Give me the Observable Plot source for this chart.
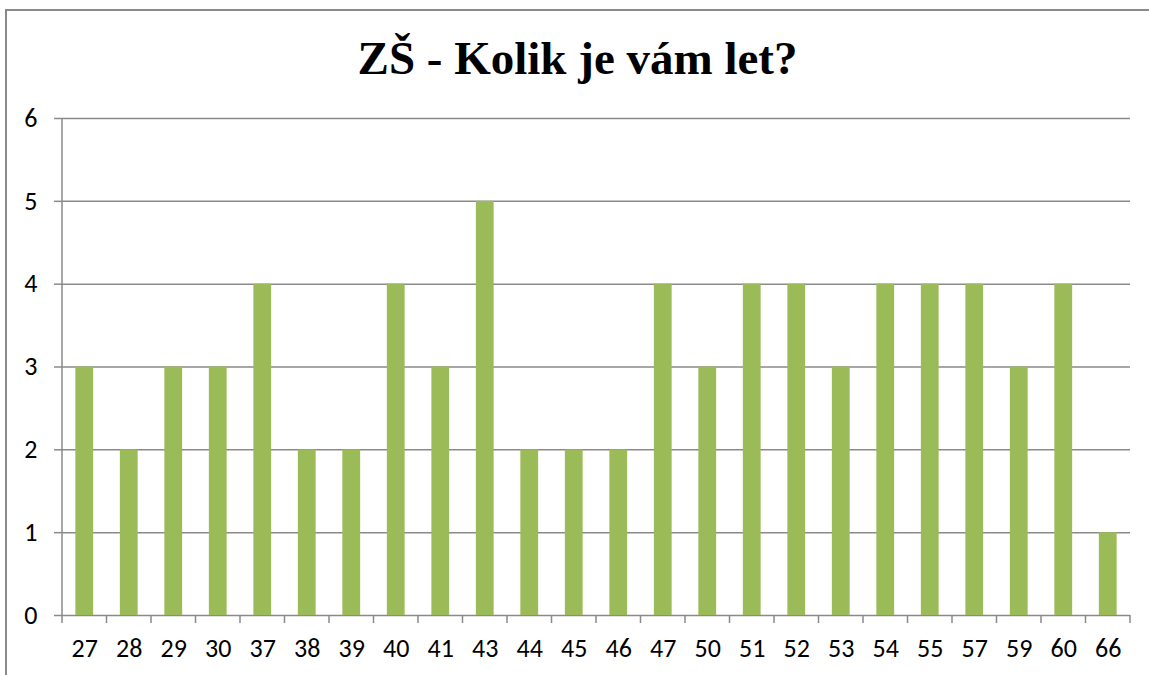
<!DOCTYPE html>
<html>
<head>
<meta charset="utf-8">
<script src="https://cdn.jsdelivr.net/npm/d3@7"></script>
<script src="https://cdn.jsdelivr.net/npm/@observablehq/plot@0.6"></script>
<style>
  html, body { margin: 0; padding: 0; background: #fff; width: 1149px; height: 675px; overflow: hidden; }
  #frame { position: absolute; left: 5px; top: 9px; width: 1200px; height: 720px; border: 2px solid #8a8a8a; box-sizing: border-box; }
  #title { position: absolute; left: 0; top: 28px; width: 1155px; text-align: center;
           font-family: "Liberation Serif", "Times New Roman", serif; font-weight: bold; font-size: 47px; line-height: 60px; color: #000; }
  #plot { position: absolute; left: 0; top: 100px; }
  #plot svg text { font-size: 26px !important; font-family: Carlito, "Open Sans", "Noto Sans", sans-serif !important; fill: #000; }
</style>
</head>
<body>
<div id="frame"></div>
<div id="title">ZŠ - Kolik je vám let?</div>
<div id="plot"></div>
<script>
const ages = ["27","28","29","30","37","38","39","40","41","43","44","45","46","47","50","51","52","53","54","55","57","59","60","66"];
const counts = [3,2,3,3,4,2,2,4,3,5,2,2,2,4,3,4,4,3,4,4,4,3,4,1];
const yTicks = [0,1,2,3,4,5,6];

const data = ages.map((a, i) => ({age: a, count: counts[i]}));
const gray = "#8a8a8a";

// boundary tick marks between categories on the x axis, plus the vertical axis line
function boundaryTicks(index, scales, values, dimensions) {
  const x = scales.x;
  const bw = x.bandwidth();
  const step = bw / 0.4;
  const y0 = scales.y(0);
  const g = d3.create("svg:g");
  const positions = ages.map(a => x(a) + bw / 2 - step / 2);
  positions.push(x(ages[ages.length - 1]) + bw / 2 + step / 2);
  for (const px of positions) {
    g.append("line").attr("x1", px).attr("x2", px).attr("y1", y0).attr("y2", y0 + 8)
      .attr("stroke", gray).attr("stroke-width", 1.5);
  }
  g.append("line").attr("x1", dimensions.marginLeft).attr("x2", dimensions.marginLeft)
    .attr("y1", scales.y(6)).attr("y2", y0).attr("stroke", gray).attr("stroke-width", 1.5);
  return g.node();
}

const chart = Plot.plot({
  width: 1149,
  height: 575,
  marginLeft: 62,
  marginRight: 19,
  marginTop: 18,
  marginBottom: 60,
  style: { fontFamily: "Carlito, 'Open Sans', sans-serif", fontSize: "26px", color: "#000", background: "transparent" },
  x: { domain: ages, paddingInner: 0.6, paddingOuter: 0.3, round: false, label: null },
  y: { domain: [0, 6], label: null },
  marks: [
    Plot.gridY(yTicks, { stroke: gray, strokeOpacity: 1, strokeWidth: 1.5 }),
    Plot.barY(data, { x: "age", y: "count", fill: "#9BBB59" }),
    Plot.axisY(yTicks, { tickSize: 8, tickPadding: 17, tickFormat: "d", stroke: gray, strokeWidth: 1.5 }),
    Plot.axisX({ tickSize: 0, tickPadding: 23 }),
    boundaryTicks
  ]
});
document.getElementById("plot").appendChild(chart);
</script>
</body>
</html>
